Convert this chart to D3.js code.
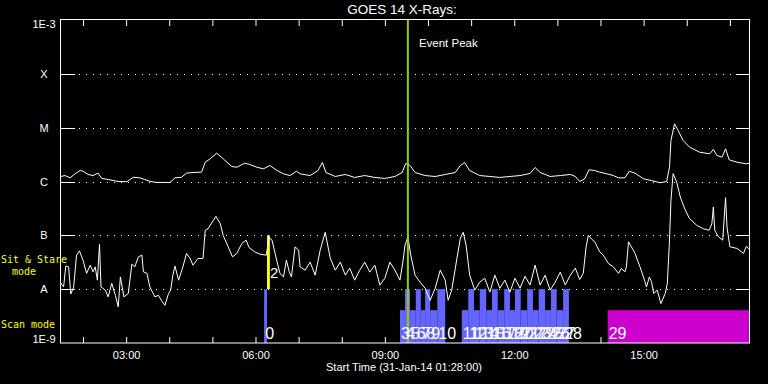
<!DOCTYPE html>
<html><head><meta charset="utf-8">
<script src="https://cdn.jsdelivr.net/npm/d3@7"></script>
<style>html,body{margin:0;padding:0;background:#000;}svg{display:block;}</style>
</head><body><svg id="c" width="768" height="384"></svg>
<script>
// ---------------- data ----------------
const titleText = "GOES 14 X-Rays:";
const xTitle = "Start Time (31-Jan-14 01:28:00)";
const startTime = "01:28", endTime = "17:28";
const yTickValues = [1e-9, 1e-8, 1e-7, 1e-6, 1e-5, 1e-4, 1e-3];
const yTickLabels = ["1E-9", "A", "B", "C", "M", "X", "1E-3"];
const xTickLabels = ["03:00", "06:00", "09:00", "12:00", "15:00"];
const eventPeak = "09:32";

// GOES long channel (1-8 A), [time, W/m^2]
const longChannel = [
 ["01:29",1.24e-6],["01:35",1.29e-6],["01:42",1.17e-6],["01:49",1.39e-6],["01:56",1.6e-6],
 ["02:00",1.55e-6],["02:07",1.35e-6],["02:14",1.29e-6],["02:21",1.43e-6],["02:26",1.14e-6],
 ["02:35",1.09e-6],["02:47",1.01e-6],["03:01",0.99e-6],["03:10",1.2e-6],["03:19",1.17e-6],
 ["03:26",1.09e-6],["03:33",1.01e-6],["03:42",0.96e-6],["04:01",0.96e-6],["04:08",1.17e-6],
 ["04:17",1.2e-6],["04:24",1.43e-6],["04:33",1.47e-6],["04:45",1.49e-6],["04:50",2.28e-6],
 ["04:57",2.64e-6],["05:06",3.36e-6],["05:15",2.64e-6],["05:27",1.9e-6],["05:34",1.84e-6],
 ["05:45",2.19e-6],["05:52",2.07e-6],["06:02",1.84e-6],["06:11",1.72e-6],["06:20",1.98e-6],
 ["06:30",1.6e-6],["06:39",1.39e-6],["06:48",1.29e-6],["06:57",1.55e-6],["07:02",1.39e-6],
 ["07:16",1.29e-6],["07:27",1.6e-6],["07:33",2.25e-6],["07:38",1.47e-6],["07:51",1.24e-6],
 ["08:05",1.35e-6],["08:18",1.19e-6],["08:32",1.29e-6],["08:46",1.19e-6],["09:00",1.14e-6],
 ["09:14",1.24e-6],["09:24",1.47e-6],["09:29",2.16e-6],["09:35",1.98e-6],["09:42",1.47e-6],
 ["09:56",1.29e-6],["10:10",1.24e-6],["10:24",1.35e-6],["10:38",1.47e-6],["10:45",1.98e-6],
 ["10:51",2.25e-6],["10:58",1.6e-6],["11:12",1.29e-6],["11:26",1.24e-6],["11:40",1.19e-6],
 ["11:54",1.24e-6],["12:08",1.29e-6],["12:22",1.41e-6],["12:29",1.82e-6],["12:36",1.47e-6],
 ["12:50",1.24e-6],["13:04",1.29e-6],["13:18",1.35e-6],["13:25",1.24e-6],["13:31",1.0e-6],
 ["13:38",1.12e-6],["13:44",1.65e-6],["13:52",1.6e-6],["13:59",1.49e-6],["14:09",1.39e-6],
 ["14:18",1.29e-6],["14:25",1.17e-6],["14:34",1.17e-6],["14:40",1.55e-6],["14:48",1.43e-6],
 ["15:00",1.12e-6],["15:11",1.04e-6],["15:23",0.95e-6],["15:32",1.0e-6],["15:36",1.84e-6],
 ["15:38",5.78e-6],["15:43",1.18e-5],["15:48",8.87e-6],["15:55",5.78e-6],["16:04",4.34e-6],
 ["16:18",3.5e-6],["16:32",3.27e-6],["16:37",3.93e-6],["16:42",3.04e-6],["16:49",2.83e-6],
 ["16:54",4.05e-6],["16:59",2.53e-6],["17:10",2.28e-6],["17:23",2.13e-6],["17:28",2.19e-6]
];

// GOES short channel (0.5-4 A), [time, W/m^2]
const shortChannel = [
 ["01:29",1.31e-8],["01:33",1.1e-8],["01:36",2.68e-8],["01:40",2.59e-8],["01:43",8.1e-9],
 ["01:47",1.1e-8],["01:51",4.28e-8],["01:55",5.15e-8],["02:00",3.46e-8],["02:05",1.96e-8],
 ["02:10",2.79e-8],["02:14",2.1e-8],["02:17",2.6e-8],["02:20",1.47e-8],["02:23",6.86e-8],
 ["02:25",1.1e-8],["02:31",9.6e-9],["02:35",7.2e-9],["02:40",1.28e-8],["02:45",7.7e-9],
 ["02:49",4.7e-9],["02:52",1.69e-8],["02:57",7.2e-9],["03:03",8.3e-9],["03:08",2.92e-8],
 ["03:12",2.59e-8],["03:17",3.98e-8],["03:22",4.28e-8],["03:24",2.1e-8],["03:29",1.96e-8],
 ["03:33",1.1e-8],["03:40",7.2e-9],["03:45",7.7e-9],["03:49",6.2e-9],["03:54",5.0e-9],
 ["03:59",8.3e-9],["04:02",9.6e-9],["04:05",1.82e-8],["04:08",2.68e-8],["04:13",1.47e-8],
 ["04:19",2.59e-8],["04:24",4.61e-8],["04:29",3.72e-8],["04:33",2.79e-8],["04:40",3.72e-8],
 ["04:47",3.72e-8],["04:50",1.24e-7],["04:54",1.33e-7],["05:05",2.25e-7],["05:11",1.65e-7],
 ["05:15",1.0e-7],["05:22",6.12e-8],["05:28",3.98e-8],["05:34",4.61e-8],["05:41",7.07e-8],
 ["05:47",8.14e-8],["05:51",5.94e-8],["05:59",4.93e-8],["06:06",4.47e-8],["06:15",4.28e-8],
 ["06:19",9.1e-8],["06:23",8.14e-8],["06:30",3.22e-8],["06:34",1.96e-8],["06:39",1.69e-8],
 ["06:43",3.46e-8],["06:47",2.1e-8],["06:50",1.69e-8],["06:55",6.12e-8],["07:00",5.31e-8],
 ["07:02",2.59e-8],["07:09",2.25e-8],["07:16",3.18e-8],["07:23",1.82e-8],["07:30",5.31e-8],
 ["07:37",1.14e-7],["07:44",3.77e-8],["07:51",2.25e-8],["07:58",3.18e-8],["08:05",1.82e-8],
 ["08:11",2.46e-8],["08:18",1.47e-8],["08:25",2.25e-8],["08:32",3.18e-8],["08:39",2.07e-8],
 ["08:46",2.79e-8],["08:53",1.19e-8],["09:00",1.6e-8],["09:07",3.18e-8],["09:14",2.25e-8],
 ["09:21",1.47e-8],["09:25",3.18e-8],["09:28",6.57e-8],["09:32",9.25e-8],["09:36",4.28e-8],
 ["09:42",1.82e-8],["09:49",1.35e-8],["09:56",1.04e-8],["10:03",6.2e-9],["10:10",1.04e-8],
 ["10:17",2.25e-8],["10:24",1.47e-8],["10:28",6.2e-9],["10:33",9.6e-9],["10:38",2.46e-8],
 ["10:45",8.87e-8],["10:49",1.14e-7],["10:53",6.57e-8],["10:58",1.82e-8],["11:05",9.6e-9],
 ["11:12",1.35e-8],["11:19",1.6e-8],["11:26",8.8e-9],["11:33",1.82e-8],["11:40",1.04e-8],
 ["11:47",1.47e-8],["11:54",8.8e-9],["12:01",1.6e-8],["12:08",1.04e-8],["12:15",1.74e-8],
 ["12:22",1.19e-8],["12:29",2.79e-8],["12:36",1.19e-8],["12:43",1.82e-8],["12:50",9.6e-9],
 ["12:57",1.35e-8],["13:04",2.07e-8],["13:11",1.19e-8],["13:18",1.82e-8],["13:25",2.46e-8],
 ["13:31",1.51e-8],["13:36",1.96e-8],["13:40",6.12e-8],["13:43",1.0e-7],["13:48",8.4e-8],
 ["13:52",7.57e-8],["13:59",4.93e-8],["14:04",4.28e-8],["14:11",3.0e-8],["14:18",2.59e-8],
 ["14:25",1.96e-8],["14:29",2.42e-8],["14:34",2.1e-8],["14:36",2.59e-8],["14:39",7.57e-8],
 ["14:43",6.12e-8],["14:48",4.61e-8],["14:55",2.59e-8],["15:02",1.37e-8],["15:04",1.1e-8],
 ["15:08",1.69e-8],["15:11",1.37e-8],["15:14",8.3e-9],["15:19",9.6e-9],["15:24",5.4e-9],
 ["15:30",8.3e-9],["15:33",1.28e-8],["15:36",8.14e-8],["15:38",4.47e-7],["15:41",1.4e-6],
 ["15:46",9.75e-7],["15:51",5.15e-7],["15:58",2.92e-7],["16:04",2.04e-7],["16:14",1.53e-7],
 ["16:23",1.33e-7],["16:31",1.24e-7],["16:35",1.65e-7],["16:37",3.36e-7],["16:39",1.24e-7],
 ["16:44",9.4e-8],["16:50",8.14e-8],["16:54",5.02e-7],["16:56",1.43e-7],["17:00",6.12e-8],
 ["17:10",5.71e-8],["17:19",4.61e-8],["17:23",6.3e-8],["17:28",5.31e-8]
];

// Scan mode observations: [id, start, end]
const scanObs = [
 [0,"06:12","06:16"],
 [3,"09:21","09:28"],[4,"09:28","09:35"],[5,"09:35","09:43"],[6,"09:43","09:50"],
 [7,"09:50","09:56"],[8,"09:56","10:03"],[9,"10:03","10:13"],[10,"10:13","10:24"],
 [11,"10:47","10:56"],[12,"10:56","11:04"],[13,"11:04","11:12"],[14,"11:12","11:21"],
 [15,"11:21","11:29"],[16,"11:29","11:37"],[17,"11:37","11:46"],[18,"11:46","11:54"],
 [19,"11:54","12:01"],[20,"12:01","12:09"],[21,"12:09","12:18"],[22,"12:18","12:26"],
 [23,"12:26","12:34"],[24,"12:34","12:43"],[25,"12:43","12:51"],[26,"12:51","12:59"],
 [27,"12:59","13:08"],[28,"13:08","13:16"]
];
const longScanObs = [[29,"14:10","17:27"]];
// Sit & Stare observations: [id, start, end]
const stareObs = [[2,"06:16","06:20"]];

// ---------------- drawing ----------------
const T = s => new Date(Date.UTC(2014, 0, 31, +s.slice(0, 2), +s.slice(3, 5)));
const svg = d3.select("#c");
svg.append("rect").attr("width", 768).attr("height", 384).attr("fill", "#000");

const L = 60, R = 750, TOP = 20, BOT = 343;
const x = d3.scaleUtc().domain([T(startTime), T(endTime)]).range([L, R]);
const y = d3.scaleLog().domain([1e-9, 1e-3]).range([BOT, TOP]);
const FONT = "'Liberation Sans', Arial, sans-serif";
const MONO = "'DejaVu Sans Mono', monospace";

// dotted grid at interior decades
const inner = yTickValues.slice(1, -1);
svg.append("g").selectAll("line").data(inner).join("line")
  .attr("x1", L).attr("x2", R)
  .attr("y1", d => Math.round(y(d)) + 0.5).attr("y2", d => Math.round(y(d)) + 0.5)
  .attr("stroke", "#fff").attr("stroke-dasharray", "1,6").attr("stroke-dashoffset", 2);
// major ticks left/right
svg.append("g").selectAll("line").data(inner).join("line")
  .attr("x1", L).attr("x2", L + 15)
  .attr("y1", d => Math.round(y(d)) + 0.5).attr("y2", d => Math.round(y(d)) + 0.5)
  .attr("stroke", "#fff");
svg.append("g").selectAll("line").data(inner).join("line")
  .attr("x1", R - 14).attr("x2", R)
  .attr("y1", d => Math.round(y(d)) + 0.5).attr("y2", d => Math.round(y(d)) + 0.5)
  .attr("stroke", "#fff");

// y labels
svg.append("g").selectAll("text").data(yTickValues).join("text")
  .attr("x", 44)
  .attr("y", d => Math.min(343, Math.max(27.5, y(d) + 4)))
  .attr("text-anchor", "middle").attr("fill", "#fff")
  .attr("font-family", FONT).attr("font-size", 11)
  .text((d, i) => yTickLabels[i]);

// time axes
const fmt = d3.utcFormat("%H:%M");
const bottomAxis = d3.axisBottom(x).ticks(d3.utcHour.every(1))
  .tickSizeInner(-6).tickSizeOuter(0).tickPadding(8)
  .tickFormat(d => xTickLabels.includes(fmt(d)) ? fmt(d) : "");
const gb = svg.append("g").attr("transform", `translate(0,${BOT})`).call(bottomAxis);
gb.select(".domain").remove();
gb.selectAll("line").attr("stroke", "#fff");
gb.selectAll("text").attr("fill", "#fff").attr("font-family", FONT).attr("font-size", 11);
const topAxis = d3.axisTop(x).ticks(d3.utcHour.every(1))
  .tickSizeInner(-6).tickSizeOuter(0).tickFormat("");
const gt = svg.append("g").attr("transform", `translate(0,${TOP})`).call(topAxis);
gt.select(".domain").remove();
gt.selectAll("line").attr("stroke", "#fff");

// observation bars
const tallTop = y(1e-8), shortTop = y(1e-8) + 21;
const barTop = id => id % 2 === 0 ? tallTop : shortTop;
svg.append("g").selectAll("rect").data(scanObs).join("rect")
  .attr("x", d => x(T(d[1]))).attr("width", d => x(T(d[2])) - x(T(d[1])))
  .attr("y", d => barTop(d[0])).attr("height", d => BOT - barTop(d[0]))
  .attr("fill", "#6464ff");
svg.append("g").selectAll("rect").data(longScanObs).join("rect")
  .attr("x", d => x(T(d[1]))).attr("width", d => x(T(d[2])) - x(T(d[1])))
  .attr("y", d => barTop(d[0])).attr("height", d => BOT - barTop(d[0]))
  .attr("fill", "#cc00cc");
svg.append("g").selectAll("rect").data(stareObs).join("rect")
  .attr("x", d => x(T(d[1]))).attr("width", d => x(T(d[2])) - x(T(d[1])))
  .attr("y", y(1e-7)).attr("height", y(1e-8) - y(1e-7))
  .attr("fill", "#ffff00");

// curves
const line = d3.line().x(d => x(T(d[0]))).y(d => y(d[1]));
svg.append("path").datum(longChannel).attr("d", line)
  .attr("fill", "none").attr("stroke", "#fff").attr("stroke-width", 1);
svg.append("path").datum(shortChannel).attr("d", line)
  .attr("fill", "none").attr("stroke", "#fff").attr("stroke-width", 1);

// event peak line
svg.append("line").attr("x1", x(T(eventPeak))).attr("x2", x(T(eventPeak)))
  .attr("y1", TOP).attr("y2", BOT).attr("stroke", "#99cc00").attr("stroke-width", 2);
svg.append("text").attr("x", x(T(eventPeak)) + 11).attr("y", 47)
  .attr("fill", "#fff").attr("font-family", FONT).attr("font-size", 11.5).text("Event Peak");

// observation labels
svg.append("g").selectAll("text").data(scanObs.concat(longScanObs)).join("text")
  .attr("x", d => x(T(d[1])) + 1).attr("y", 339)
  .attr("fill", "#fff").attr("font-family", FONT).attr("font-size", 16)
  .text(d => d[0]);
svg.append("g").selectAll("text").data(stareObs).join("text")
  .attr("x", d => x(T(d[2]))).attr("y", 278)
  .attr("fill", "#fff").attr("font-family", FONT).attr("font-size", 15)
  .text(d => d[0]);

// frame
svg.append("rect").attr("x", L + 0.5).attr("y", TOP - 0.5)
  .attr("width", R - L - 1).attr("height", BOT - TOP + 0.5)
  .attr("fill", "none").attr("stroke", "#fff");

// titles
svg.append("text").attr("x", 402).attr("y", 13.5).attr("text-anchor", "middle")
  .attr("fill", "#fff").attr("font-family", FONT).attr("font-size", 13.5).text(titleText);
svg.append("text").attr("x", 404).attr("y", 371).attr("text-anchor", "middle")
  .attr("fill", "#fff").attr("font-family", FONT).attr("font-size", 11).text(xTitle);

// mode labels
const modeLbl = [["Sit & Stare", 34, 263], ["mode", 24, 275], ["Scan mode", 28, 328]];
svg.append("g").selectAll("text").data(modeLbl).join("text")
  .attr("x", d => d[1]).attr("y", d => d[2]).attr("text-anchor", "middle")
  .attr("fill", "#ffff00").attr("font-family", MONO).attr("font-size", 10)
  .text(d => d[0]);
</script></body></html>
